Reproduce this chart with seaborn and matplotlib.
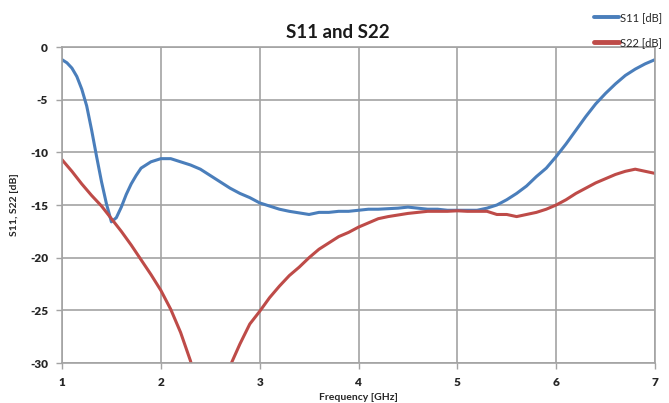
import matplotlib
matplotlib.use("Agg")
import matplotlib.pyplot as plt
import numpy as np
import pandas as pd
import seaborn as sns

# Frequency sweep (GHz) and measured reflection coefficients (dB)
freq_s11 = [1.00, 1.05, 1.10, 1.15, 1.20, 1.25, 1.30, 1.35, 1.40, 1.45, 1.50,
            1.55, 1.60, 1.65, 1.70, 1.75, 1.80, 1.90, 2.00, 2.10, 2.20, 2.30,
            2.40, 2.50, 2.60, 2.70, 2.80, 2.90, 3.00, 3.10, 3.20, 3.30, 3.40,
            3.50, 3.60, 3.70, 3.80, 3.90, 4.00, 4.10, 4.20, 4.30, 4.40, 4.50,
            4.60, 4.70, 4.80, 4.90, 5.00, 5.10, 5.20, 5.30, 5.40, 5.50, 5.60,
            5.70, 5.80, 5.90, 6.00, 6.10, 6.20, 6.30, 6.40, 6.50, 6.60, 6.70,
            6.80, 6.90, 7.00]
s11_db = [-1.2, -1.5, -2.0, -2.8, -4.0, -5.6, -7.9, -10.4, -12.8, -14.9, -16.6,
          -16.2, -15.2, -14.0, -13.0, -12.2, -11.5, -10.9, -10.6, -10.6, -10.9, -11.2,
          -11.6, -12.2, -12.8, -13.4, -13.9, -14.3, -14.8, -15.1, -15.4, -15.6, -15.75,
          -15.9, -15.7, -15.7, -15.6, -15.6, -15.5, -15.4, -15.4, -15.35, -15.3, -15.2,
          -15.3, -15.4, -15.4, -15.5, -15.5, -15.5, -15.5, -15.3, -15.0, -14.5, -13.9,
          -13.2, -12.3, -11.5, -10.4, -9.2, -7.9, -6.6, -5.4, -4.4, -3.5, -2.7,
          -2.1, -1.6, -1.2]

freq_s22 = [1.00, 1.10, 1.20, 1.30, 1.40, 1.50, 1.60, 1.70, 1.80, 1.90, 2.00,
            2.10, 2.20, 2.30, 2.40, 2.50, 2.60, 2.70, 2.80, 2.90, 3.00, 3.10,
            3.20, 3.30, 3.40, 3.50, 3.60, 3.70, 3.80, 3.90, 4.00, 4.10, 4.20,
            4.30, 4.40, 4.50, 4.60, 4.70, 4.80, 4.90, 5.00, 5.10, 5.20, 5.30,
            5.40, 5.50, 5.60, 5.70, 5.80, 5.90, 6.00, 6.10, 6.20, 6.30, 6.40,
            6.50, 6.60, 6.70, 6.80, 6.90, 7.00]
s22_db = [-10.7, -11.8, -13.0, -14.1, -15.1, -16.3, -17.5, -18.8, -20.2, -21.6, -23.1,
          -24.9, -27.1, -29.8, -33.5, -38.0, -34.0, -30.3, -28.2, -26.3, -25.1, -23.8,
          -22.7, -21.7, -20.9, -20.0, -19.2, -18.6, -18.0, -17.6, -17.1, -16.7, -16.3,
          -16.1, -15.95, -15.8, -15.7, -15.6, -15.6, -15.6, -15.55, -15.6, -15.6, -15.6,
          -15.9, -15.9, -16.1, -15.9, -15.7, -15.4, -15.0, -14.5, -13.9, -13.4, -12.9,
          -12.5, -12.1, -11.8, -11.6, -11.8, -12.0]

series_names = ["S11 [dB]", "S22 [dB]"]
x_ticks = [1, 2, 3, 4, 5, 6, 7]
y_ticks = [0, -5, -10, -15, -20, -25, -30]

df = pd.concat([
    pd.DataFrame({"Frequency": freq_s11, "dB": s11_db, "Series": series_names[0]}),
    pd.DataFrame({"Frequency": freq_s22, "dB": s22_db, "Series": series_names[1]}),
], ignore_index=True)

sns.set_theme(style="white")
plt.rcParams["font.family"] = ["Lato", "DejaVu Sans"]

grid_color = "#a3a3a3"
text_color = "#262626"

fig = plt.figure(figsize=(6.69, 4.03), dpi=100)
ax = fig.add_axes([62 / 669, 1 - 363 / 403, (655 - 62) / 669, (363 - 47) / 403])

sns.lineplot(data=df, x="Frequency", y="dB", hue="Series", sort=False,
             palette={"S11 [dB]": "#4a7ebb", "S22 [dB]": "#be4b48"},
             linewidth=2.2, ax=ax, legend=False)

ax.set_xlim(1, 7)
ax.set_ylim(-30, 0)
ax.set_xticks(x_ticks)
ax.set_yticks(y_ticks)
ax.set_xticklabels([str(t) for t in x_ticks], fontsize=8.5, fontweight="heavy", color=text_color)
ax.set_yticklabels([str(t) for t in y_ticks], fontsize=8.5, fontweight="heavy", color=text_color)
ax.grid(True, color=grid_color, linewidth=1.2)
ax.set_axisbelow(True)
for sp in ax.spines.values():
    sp.set_visible(True)
    sp.set_color(grid_color)
    sp.set_linewidth(1.2)
ax.tick_params(axis="both", which="major", direction="out", length=4, width=1.0,
               color=grid_color, pad=6, bottom=True, left=True)

ax.set_xlabel("Frequency [GHz]", fontsize=7.5, fontweight="bold", color=text_color, labelpad=4)
ax.set_ylabel("S11, S22 [dB]", fontsize=7.5, fontweight="bold", color=text_color, labelpad=8)

fig.text(338 / 669, 1 - 32 / 403, "S11 and S22", ha="center", va="center",
         fontsize=13.5, fontweight="bold", color="#1a1a1a")

handles = [plt.Line2D([], [], color="#4a7ebb", linewidth=2.8),
           plt.Line2D([], [], color="#be4b48", linewidth=3.5)]
fig.legend(handles, series_names, loc="upper right", bbox_to_anchor=(1.0, 1.0 - 5 / 403),
           frameon=False, fontsize=8, handlelength=2.2, handletextpad=0.15,
           labelspacing=1.3, labelcolor=text_color, borderaxespad=0.2)

fig.savefig("out.png", dpi=100)
